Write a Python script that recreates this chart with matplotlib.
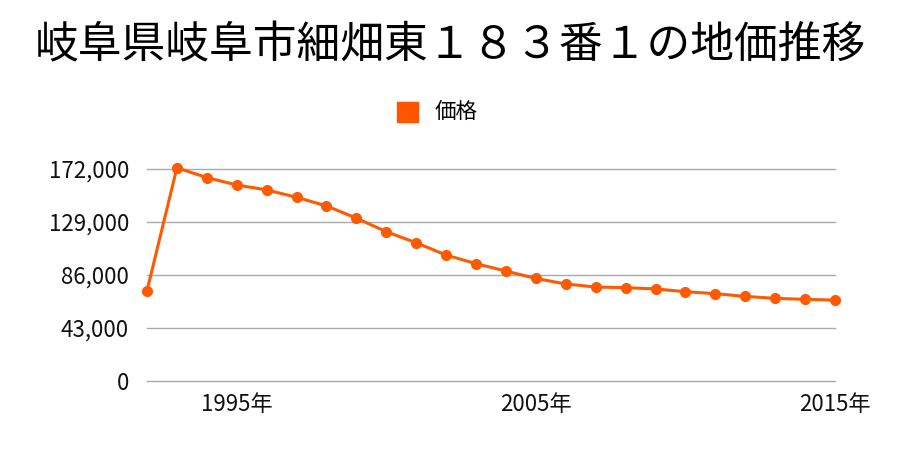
import matplotlib
matplotlib.use('Agg')
from matplotlib import pyplot as plt
from matplotlib.patches import Rectangle

plt.rcParams['font.family'] = ['Noto Sans CJK JP', 'DejaVu Sans']

# 年と地価（円/m2）
nen = list(range(1992, 2016))
kakaku = [73000, 173000, 165000, 159000, 155000, 149000, 142000, 132000,
          121000, 112000, 102000, 95000, 89000, 83000, 78500, 76000,
          75500, 74500, 72200, 70600, 68400, 66800, 66000, 65400]

y_ticks = [0, 43000, 86000, 129000, 172000]
x_ticks = [1995, 2005, 2015]
x_labels = ['1995年', '2005年', '2015年']

kolor = '#ff5a00'

fig = plt.figure(figsize=(9, 4.5), dpi=100)
ax = fig.add_axes([147 / 900, 1 - 380.5 / 450, (835 - 147) / 900, (380.5 - 169) / 450])

ax.plot(nen, kakaku, color=kolor, linewidth=2.2, marker='o', markersize=7,
        clip_on=False, zorder=3)

ax.set_xlim(1992, 2015)
ax.set_ylim(0, 172000)
ax.set_yticks(y_ticks)
ax.set_yticklabels([f'{v:,}' for v in y_ticks])
ax.set_xticks(x_ticks)
ax.set_xticklabels(x_labels)
ax.tick_params(axis='both', length=0, labelsize=16, colors='#111111')
ax.tick_params(axis='y', pad=13)
ax.tick_params(axis='x', pad=9)
ax.grid(True, axis='y', color='#aaaaaa', linewidth=1)
for gl in ax.get_ygridlines():
    gl.set_clip_on(False)
for s in ax.spines.values():
    s.set_visible(False)

fig.text(0.5, 1 - 45 / 450, '岐阜県岐阜市細畑東１８３番１の地価推移',
         ha='center', va='center', fontsize=31.5)

# legenda
fig.patches.append(Rectangle((397 / 900, 1 - 122 / 450), 21 / 900, 20 / 450,
                             transform=fig.transFigure, color='#ff5500'))
fig.text(435 / 900, 1 - 112 / 450, '価格', ha='left', va='center', fontsize=15.5)

fig.savefig('out.png')
